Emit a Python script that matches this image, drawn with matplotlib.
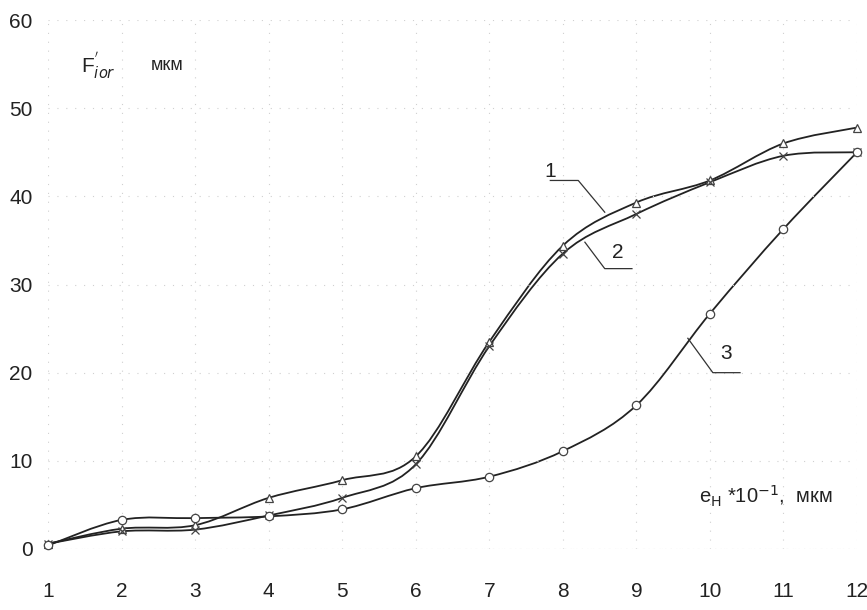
import matplotlib.pyplot as plt
from matplotlib.path import Path
from matplotlib.patches import PathPatch

plt.rcParams["font.family"] = ["Liberation Sans", "DejaVu Sans"]

x = [1, 2, 3, 4, 5, 6, 7, 8, 9, 10, 11, 12]
curve_1 = [0.6, 2.3, 2.7, 5.8, 7.8, 10.5, 23.5, 34.4, 39.3, 41.8, 46.0, 47.8]
curve_2 = [0.6, 2.0, 2.2, 3.8, 5.8, 9.6, 23.0, 33.5, 38.0, 41.6, 44.6, 45.0]
curve_3 = [0.4, 3.3, 3.5, 3.7, 4.5, 6.9, 8.2, 11.1, 16.3, 26.7, 36.3, 45.0]
y_ticks = [0, 10, 20, 30, 40, 50, 60]


def smooth_path(xs, ys, tension=1 / 6):
    # Catmull-Rom style bezier segments, like a smoothed spreadsheet line
    verts = [(xs[0], ys[0])]
    codes = [Path.MOVETO]
    n = len(xs)
    for i in range(n - 1):
        x0, y0 = (xs[i - 1], ys[i - 1]) if i > 0 else (xs[i], ys[i])
        x1, y1 = xs[i], ys[i]
        x2, y2 = xs[i + 1], ys[i + 1]
        x3, y3 = (xs[i + 2], ys[i + 2]) if i + 2 < n else (x2, y2)
        c1 = (x1 + (x2 - x0) * tension, y1 + (y2 - y0) * tension)
        c2 = (x2 - (x3 - x1) * tension, y2 - (y3 - y1) * tension)
        verts += [c1, c2, (x2, y2)]
        codes += [Path.CURVE4] * 3
    return Path(verts, codes)


fig = plt.figure(figsize=(8.67, 6.10), dpi=100)
ax = fig.add_axes([48 / 867, 61 / 610, 809 / 867, 529 / 610])
ax.set_xlim(1, 12)
ax.set_ylim(0, 60)

for ys, marker in [(curve_1, "^"), (curve_2, "x"), (curve_3, "o")]:
    ax.add_patch(PathPatch(smooth_path(x, ys), fill=False, lw=1.3, ec="#222222", clip_on=False))
    ax.plot(x, ys, ls="none", marker=marker, ms=6, mfc="white", mec="#444444", mew=0.9,
            clip_on=False, zorder=3)

for s in ax.spines.values():
    s.set_visible(False)
ax.grid(True, ls=(0, (1, 7)), lw=0.8, color="#d0d0d0")
ax.axhline(0, ls=(0, (1, 4)), lw=0.8, color="#bbbbbb")

ax.set_xticks(x)
ax.set_yticks(y_ticks)
ax.tick_params(length=0, labelsize=15, colors="#222222")
ax.tick_params(axis="x", pad=24)
ax.tick_params(axis="y", pad=11)

# curve number labels with leader lines
ax.plot([7.83, 8.21, 8.57], [41.8, 41.8, 38.2], color="#333333", lw=0.9)
ax.text(7.75, 42.2, "1", fontsize=15, color="#222222")
ax.plot([8.30, 8.57, 8.94], [34.8, 31.8, 31.8], color="#333333", lw=0.9)
ax.text(8.67, 33.0, "2", fontsize=15, color="#222222")
ax.plot([9.70, 10.04, 10.41], [23.9, 20.0, 20.0], color="#333333", lw=0.9)
ax.text(10.14, 21.6, "3", fontsize=15, color="#222222")

ax.text(1.45, 54.0, r"F$^{'}_{\it ior}$", fontsize=15, color="#222222")
ax.text(2.4, 54.3, "мкм", fontsize=13, color="#222222")
ax.text(9.85, 5.2, r"e$_{\mathrm{H}}$ *10$^{-1}$,  мкм", fontsize=14.5, color="#222222")

fig.savefig("out.png", dpi=100)
